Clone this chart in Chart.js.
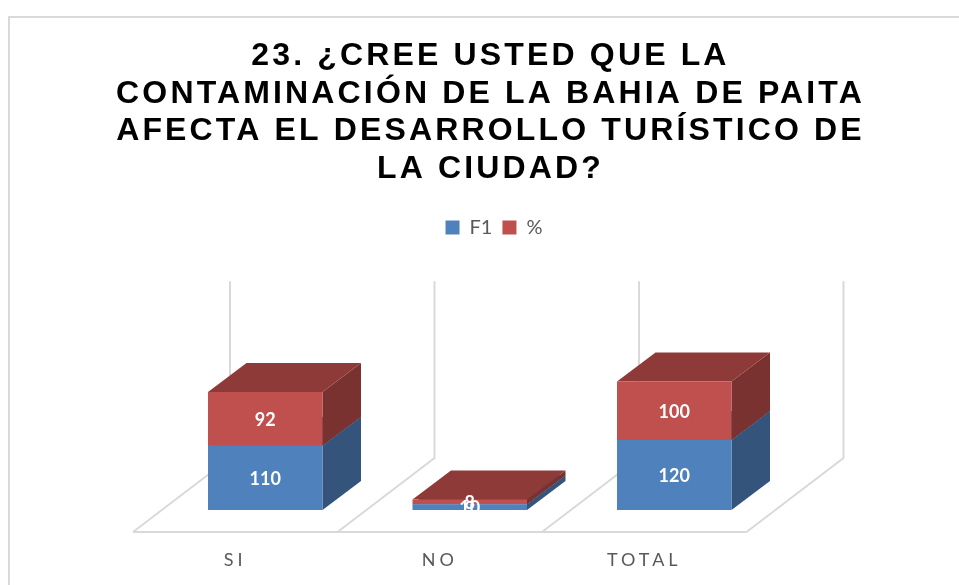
<!DOCTYPE html>
<html>
<head>
<meta charset="utf-8">
<style>
  html, body { margin: 0; background: #fff; overflow: hidden; }
  #wrap { position: relative; width: 959px; height: 585px; }
  #frame { position: absolute; left: 8px; top: 16px; width: 951px; height: 569px; box-sizing: border-box;
    border-left: 2px solid #d9d9d9; border-top: 2px solid #d9d9d9; }
  canvas { position: absolute; left: 0; top: 0; }
</style>
<script src="https://cdn.jsdelivr.net/npm/chart.js@4"></script>
</head>
<body>
<div id="wrap">
  <div id="frame"></div>
  <canvas id="chart" width="959" height="585"></canvas>
</div>
<script>
const categories = ["SI", "NO", "TOTAL"];
const f1Values = [110, 10, 120];
const pctValues = [92, 8, 100];
const titleLines = [
  "23. ¿CREE USTED QUE LA",
  "CONTAMINACIÓN DE LA BAHIA DE PAITA",
  "AFECTA EL DESARROLLO TURÍSTICO DE",
  "LA CIUDAD?"
];
const wallTopValue = 303;

// depth of the fake 3D: how far the back of a bar sits from its front
const barDepth = { x: 38.5, y: 29 };
// floor runs from this offset in front of the bars to this offset behind them
const floorFront = { x: -30, y: 22 };
const floorBack = { x: 67, y: -52 };

const sideColors = ["#34547c", "#7a3230"];
const topColors = ["#34547c", "#8e3a38"];
const gridColor = "#d9d9d9";

function poly(ctx, pts, color) {
  ctx.fillStyle = color;
  ctx.beginPath();
  pts.forEach((p, i) => (i ? ctx.lineTo(p[0], p[1]) : ctx.moveTo(p[0], p[1])));
  ctx.closePath();
  ctx.fill();
}

const fake3d = {
  id: "fake3d",
  // title and axis labels are letter spaced, title and legend get a small nudge
  afterLayout(chart) {
    const ctx = chart.ctx;
    const tweak = (obj, name, spacing, dx) => {
      if (obj[name + "Tweaked"]) return;
      const orig = obj[name];
      obj[name] = function (a) {
        ctx.save();
        ctx.letterSpacing = spacing;
        ctx.translate(dx, 0);
        orig.call(this, a);
        ctx.restore();
      };
      obj[name + "Tweaked"] = true;
    };
    tweak(chart.titleBlock, "draw", "3.15px", -1);
    tweak(chart.legend, "draw", "0px", 2.5);
    tweak(chart.scales.x, "drawLabels", "4px", 0);
  },
  beforeDatasetsDraw(chart) {
    const { ctx, chartArea, scales } = chart;
    const band = (chartArea.right - chartArea.left) / categories.length;
    const y0 = chartArea.bottom;
    const wallTop = scales.y.getPixelForValue(wallTopValue) + floorBack.y;
    ctx.save();
    ctx.strokeStyle = gridColor;
    ctx.lineWidth = 2;
    ctx.beginPath();
    ctx.moveTo(chartArea.left + floorFront.x, y0 + floorFront.y);
    ctx.lineTo(chartArea.right + floorFront.x, y0 + floorFront.y);
    for (let i = 0; i <= categories.length; i++) {
      const edge = chartArea.left + i * band;
      ctx.moveTo(edge + floorFront.x, y0 + floorFront.y);
      ctx.lineTo(edge + floorBack.x, y0 + floorBack.y);
      ctx.lineTo(edge + floorBack.x, wallTop);
    }
    ctx.stroke();

    // side and top faces behind the front faces the chart draws
    chart.data.datasets.forEach((ds, d) => {
      chart.getDatasetMeta(d).data.forEach((bar) => {
        const right = bar.x + bar.width / 2;
        const left = bar.x - bar.width / 2;
        poly(ctx, [
          [right, bar.base], [right + barDepth.x, bar.base - barDepth.y],
          [right + barDepth.x, bar.y - barDepth.y], [right, bar.y]
        ], sideColors[d]);
        poly(ctx, [
          [left, bar.y], [left + barDepth.x, bar.y - barDepth.y],
          [right + barDepth.x, bar.y - barDepth.y], [right, bar.y]
        ], topColors[d]);
      });
    });
    ctx.restore();
  },
  afterDatasetsDraw(chart) {
    const ctx = chart.ctx;
    ctx.save();
    ctx.fillStyle = "#fff";
    ctx.font = "bold 18px Lato";
    ctx.textAlign = "center";
    ctx.textBaseline = "middle";
    chart.data.datasets.forEach((ds, d) => {
      chart.getDatasetMeta(d).data.forEach((bar, i) => {
        ctx.fillText(ds.data[i], bar.x, (bar.y + bar.base) / 2 + 1);
      });
    });
    ctx.restore();
  }
};

new Chart(document.getElementById("chart"), {
  type: "bar",
  data: {
    labels: categories,
    datasets: [
      { label: "F1", data: f1Values, backgroundColor: "#4f81bd", categoryPercentage: 1, barPercentage: 0.56 },
      { label: "%", data: pctValues, backgroundColor: "#c0504d", categoryPercentage: 1, barPercentage: 0.56 }
    ]
  },
  options: {
    responsive: false,
    animation: false,
    layout: { padding: { top: 37.5, left: 24, right: 0, bottom: 0 } },
    plugins: {
      tooltip: { enabled: false },
      title: {
        display: true,
        text: titleLines,
        color: "#000",
        font: { family: "'Liberation Sans'", size: 32, weight: "bold", lineHeight: 1.175 },
        padding: { top: 0, bottom: 19.5 }
      },
      legend: {
        position: "top",
        labels: {
          color: "#595959",
          font: { family: "Lato", size: 20 },
          boxWidth: 14,
          boxHeight: 14,
          padding: 10
        }
      }
    },
    scales: {
      x: {
        stacked: true,
        afterFit(s) { s.height = 75; },
        grid: { display: false },
        border: { display: false },
        ticks: {
          color: "#595959",
          font: { family: "Lato", size: 18 },
          padding: 31,
          labelOffset: -30,
          maxRotation: 0
        }
      },
      y: {
        stacked: true,
        min: 0,
        max: 450,
        afterFit(s) { s.width = 139; },
        grid: { display: false },
        border: { display: false },
        ticks: { display: false }
      },
      spacer: {
        position: "right",
        afterFit(s) { s.width = 182.5; },
        grid: { display: false },
        border: { display: false },
        ticks: { display: false }
      }
    }
  },
  plugins: [fake3d]
});
</script>
</body>
</html>
